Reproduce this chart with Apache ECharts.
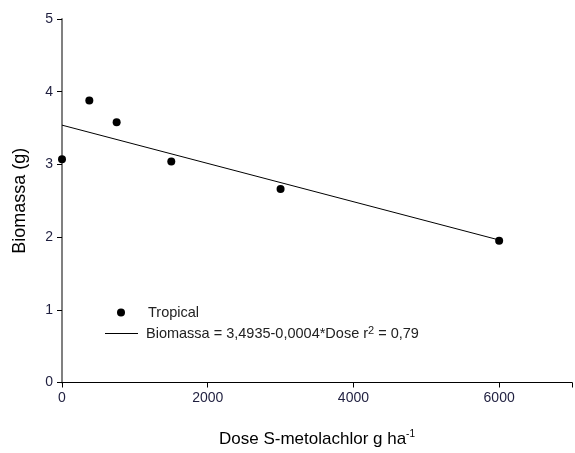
<!DOCTYPE html>
<html><head><meta charset="utf-8">
<script src="https://cdn.jsdelivr.net/npm/echarts@6/dist/echarts.min.js"></script>
<style>html,body{margin:0;padding:0;background:#fff}#c{width:575px;height:453px}</style>
</head><body><div id="c"></div>
<script>
const doses = [0, 375, 750, 1500, 3000, 6000];
const biomass = [3.07, 3.88, 3.58, 3.04, 2.66, 1.95];
const fitDoses = [0, 6000];
const fitValues = [3.54, 1.96];
const xTicks = [0, 2000, 4000, 6000];
const yTicks = [0, 1, 2, 3, 4, 5];
const pointName = 'Tropical';
const fitName = 'Biomassa = 3,4935-0,0004*Dose r2 = 0,79';

const chart = echarts.init(document.getElementById('c'));
const font = 'Liberation Sans, Arial, sans-serif';
chart.setOption({
  animation: false,
  grid: {left: 62, right: 0, top: 19, bottom: 63},
  xAxis: {
    type: 'value', min: 0, max: 7000, interval: 2000,
    axisLine: {lineStyle: {color: '#000', width: 1}},
    axisTick: {show: true, length: 5, lineStyle: {color: '#000'}},
    splitLine: {show: false},
    axisLabel: {color: '#1f1f3f', fontSize: 14, fontFamily: font, margin: 9,
      formatter: v => xTicks.includes(v) ? String(v) : ''},
    name: 'Dose S-metolachlor g ha{sup|-1}',
    nameLocation: 'middle', nameGap: 47,
    nameTextStyle: {color: '#000', fontSize: 17, fontFamily: font,
      rich: {sup: {fontSize: 10, verticalAlign: 'top', padding: [0,0,10,0], color:'#000', fontFamily: font}}}
  },
  yAxis: {
    type: 'value', min: 0, max: 5, interval: 1,
    axisLine: {show: true, lineStyle: {color: '#808080', width: 2}},
    axisTick: {show: true, length: 5, lineStyle: {color: '#000'}},
    splitLine: {show: false},
    axisLabel: {color: '#1f1f3f', fontSize: 14, fontFamily: font, margin: 9,
      formatter: v => yTicks.includes(v) ? String(v) : ''},
    name: 'Biomassa (g)', nameLocation: 'middle', nameGap: 33,
    nameTextStyle: {color: '#000', fontSize: 18, fontFamily: font}
  },
  legend: [
    {data: [{name: pointName, icon: 'circle'}], left: 117, top: 304, padding: 0, itemWidth: 8, itemHeight: 8,
     textStyle: {color: '#222', fontSize: 14.5, lineHeight: 17, fontFamily: font, padding: [0, 0, 0, 18]}},
    {data: [{name: fitName, icon: 'path://M0,0L33,0L33,1L0,1Z'}], left: 105, top: 325, padding: 0, itemWidth: 33, itemHeight: 8,
     formatter: () => 'Biomassa = 3,4935-0,0004*Dose r{sup|2} = 0,79',
     textStyle: {color: '#222', fontSize: 14.5, lineHeight: 17, fontFamily: font, padding: [0, 0, 0, 3],
       rich: {sup: {fontSize: 11, lineHeight: 17, verticalAlign: 'top', padding: [0,0,8,0], color: '#222', fontFamily: font}}}}
  ],
  series: [
    {name: fitName, type: 'line', data: fitDoses.map((d, i) => [d, fitValues[i]]),
     symbol: 'none', lineStyle: {color: '#000', width: 1}, itemStyle: {color: '#000'}, z: 2},
    {name: pointName, type: 'scatter', data: doses.map((d, i) => [d, biomass[i]]),
     symbol: 'circle', symbolSize: 8, itemStyle: {color: '#000', opacity: 1}, z: 3}
  ]
});
</script></body></html>
